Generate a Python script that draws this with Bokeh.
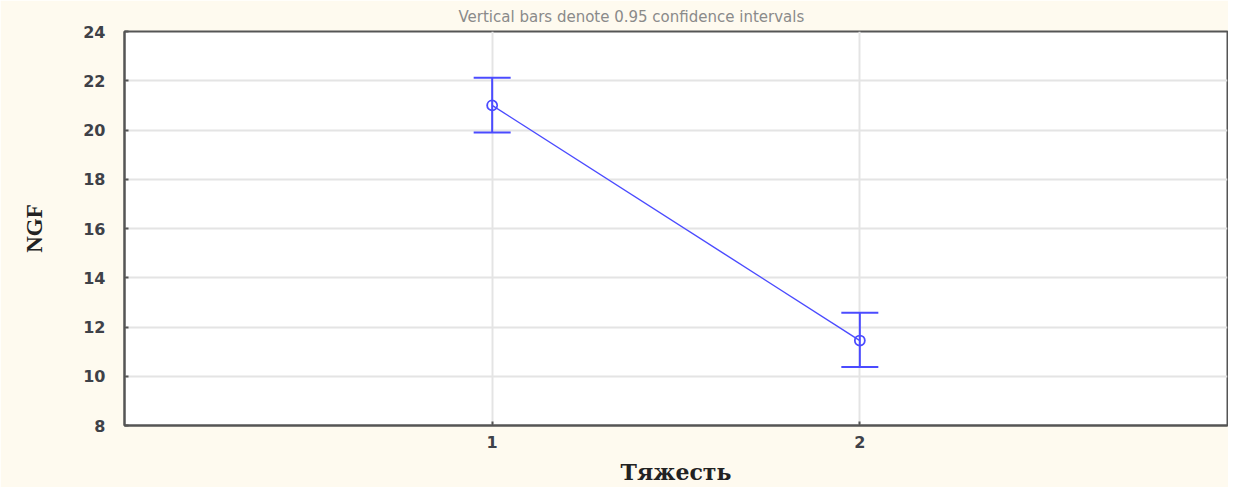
from bokeh.plotting import figure
from bokeh.models import Whisker, ColumnDataSource, FixedTicker, TeeHead, Range1d
from bokeh.embed import file_html
from bokeh.resources import INLINE

# Data
groups = [1, 2]
means = [21.0, 11.45]
upper = [22.12, 12.58]
lower = [19.9, 10.38]
y_ticks = [8, 10, 12, 14, 16, 18, 20, 22, 24]
title_text = "Vertical bars denote 0.95 confidence intervals"
x_label = "Тяжесть"
y_label = "NGF"

BG = "#FEFAEF"
BLUE = "#4B4BFF"
AX = "#555555"

p = figure(width=1228, height=487, output_backend="svg", toolbar_location=None,
           x_range=Range1d(0, 3), y_range=Range1d(8, 24),
           min_border_left=124, min_border_top=0, min_border_right=1, min_border_bottom=55)
p.border_fill_color = BG
p.background_fill_color = "white"
p.outline_line_color = AX
p.outline_line_width = 2

p.title.text = title_text
p.title.text_font = "DejaVu Sans"
p.title.text_font_size = "15px"
p.title.text_font_style = "normal"
p.title.text_color = "#8A8A8A"
p.title.align = "left"
p.title.offset = 334
p.title.standoff = 11

src = ColumnDataSource(dict(x=groups, y=means, up=upper, lo=lower))

p.line("x", "y", source=src, line_color=BLUE, line_width=1.4)
w = Whisker(base="x", upper="up", lower="lo", source=src, line_color=BLUE, line_width=2,
            upper_head=TeeHead(size=37, line_color=BLUE, line_width=2),
            lower_head=TeeHead(size=37, line_color=BLUE, line_width=2))
p.add_layout(w)
p.scatter("x", "y", source=src, marker="circle", size=10, fill_color=None,
          line_color=BLUE, line_width=1.8)

p.xaxis.ticker = FixedTicker(ticks=groups)
p.yaxis.ticker = FixedTicker(ticks=y_ticks)
p.xgrid.grid_line_color = "#E4E4E4"
p.ygrid.grid_line_color = "#E4E4E4"
p.xgrid.grid_line_width = 2
p.ygrid.grid_line_width = 2

for ax in (p.xaxis[0], p.yaxis[0]):
    ax.axis_line_color = AX
    ax.axis_line_width = 2
    ax.major_tick_in = 4
    ax.major_tick_out = 0
    ax.major_tick_line_color = AX
    ax.major_tick_line_width = 2
    ax.minor_tick_line_color = None
    ax.major_label_text_font = "DejaVu Sans"
    ax.major_label_text_font_size = "16px"
    ax.major_label_text_font_style = "bold"
    ax.major_label_text_color = "#3E4148"
    ax.axis_label_text_font_style = "bold"
    ax.axis_label_text_color = "#222222"

xa = p.xaxis[0]
xa.axis_label = x_label
xa.axis_label_text_font = "DejaVu Serif"
xa.axis_label_text_font_size = "22px"
xa.major_label_standoff = 10
xa.axis_label_standoff = 8
ya = p.yaxis[0]
ya.axis_label = y_label
ya.axis_label_text_font = "Liberation Serif"
ya.axis_label_text_font_size = "23px"
ya.major_label_standoff = 19
ya.axis_label_standoff = 33

open("out.html", "w").write(file_html(p, INLINE))
